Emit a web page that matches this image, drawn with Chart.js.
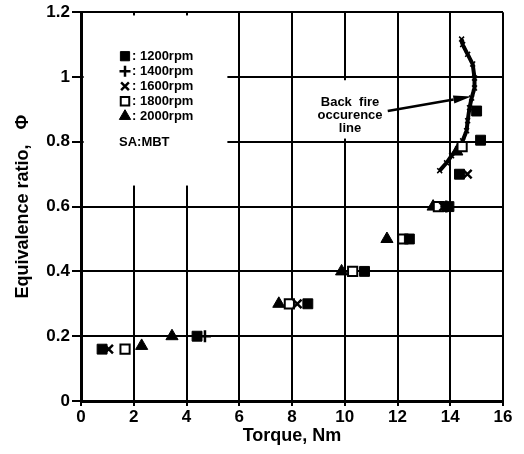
<!DOCTYPE html>
<html>
<head>
<meta charset="utf-8">
<script src="https://cdn.jsdelivr.net/npm/chart.js@4"></script>
<style>
  body { margin: 0; background: #fff; }
</style>
</head>
<body>
<canvas id="phiChart" width="524" height="454"></canvas>
<script>
// data
const rpm1200Torque = [0.8, 4.4, 8.6, 10.75, 12.45, 13.95, 14.35, 15.15, 15.0];
const rpm1200Phi    = [0.16, 0.2, 0.3, 0.4, 0.5, 0.6, 0.7, 0.805, 0.895];
const rpm1400Torque = [4.7, 13.85];
const rpm1400Phi    = [0.2, 0.6];
const rpm1600Torque = [1.05, 8.2, 13.75, 14.65];
const rpm1600Phi    = [0.16, 0.3, 0.6, 0.7];
const rpm1800Torque = [1.67, 7.9, 10.3, 12.2, 13.55, 14.45];
const rpm1800Phi    = [0.16, 0.3, 0.4, 0.5, 0.6, 0.785];
const rpm2000Torque = [2.3, 3.45, 7.5, 9.88, 11.6, 13.35, 14.25];
const rpm2000Phi    = [0.17, 0.2, 0.3, 0.4, 0.5, 0.6, 0.77];
const backfireTorque = [13.6, 13.86, 14.05, 14.28, 14.47, 14.62, 14.66, 14.73, 14.81, 14.92, 14.92, 14.85, 14.66, 14.47, 14.43];
const backfirePhi    = [0.711, 0.735, 0.757, 0.778, 0.803, 0.834, 0.865, 0.905, 0.935, 0.966, 0.997, 1.04, 1.07, 1.10, 1.117];
const xTicks = [0, 2, 4, 6, 8, 10, 12, 14, 16];
const yTicks = [0, 0.2, 0.4, 0.6, 0.8, 1, 1.2];
const legendLabels = ['1200rpm', '1400rpm', '1600rpm', '1800rpm', '2000rpm'];
const noteLines = ['Back  fire', 'occurence', 'line'];
const arrowFrom = [11.63, 0.895];
const arrowTo = [14.8, 0.94];

function pts(xs, ys) {
    return xs.map((x, i) => ({ x: x, y: ys[i] }));
}

const boldFont = 'bold 13px "Liberation Sans", Arial, sans-serif';

const markers = [
    { pointStyle: 'rect', pointRadius: 7, backgroundColor: '#000', borderColor: '#000', borderWidth: 1 },
    { pointStyle: 'cross', pointRadius: 6, backgroundColor: '#000', borderColor: '#000', borderWidth: 2.5 },
    { pointStyle: 'crossRot', pointRadius: 6, backgroundColor: '#000', borderColor: '#000', borderWidth: 2.5 },
    { pointStyle: 'rect', pointRadius: 6.5, backgroundColor: '#fff', borderColor: '#000', borderWidth: 2 },
    { pointStyle: 'triangle', pointRadius: 7, backgroundColor: '#000', borderColor: '#000', borderWidth: 1 }
];

// legend, note and arrow drawn by hand, like the original figure
const decor = {
    id: 'decor',
    beforeDatasetsDraw(chart) {
        const ctx = chart.ctx;
        const xs = chart.scales.x, ys = chart.scales.y;
        ctx.save();
        ctx.fillStyle = '#fff';
        // grid is broken behind the legend block
        let l = xs.getPixelForValue(0.1), r = xs.getPixelForValue(5.55);
        let t = ys.getPixelForValue(1.19), b = ys.getPixelForValue(0.665);
        ctx.fillRect(l, t, r - l, b - t);
        // and behind the note
        l = xs.getPixelForValue(8.6); r = xs.getPixelForValue(11.6);
        t = ys.getPixelForValue(0.99); b = ys.getPixelForValue(0.81);
        ctx.fillRect(l, t, r - l, b - t);
        ctx.restore();
    },
    afterDatasetsDraw(chart) {
        const ctx = chart.ctx;
        const xs = chart.scales.x, ys = chart.scales.y;
        const area = chart.chartArea;
        ctx.save();
        ctx.fillStyle = '#000';
        ctx.strokeStyle = '#000';
        ctx.font = boldFont;
        ctx.textBaseline = 'middle';

        // legend
        const mx = area.left + 44, tx = area.left + 51;
        legendLabels.forEach((lab, i) => {
            const y = area.top + 44 + i * 15;
            const m = markers[i];
            ctx.fillStyle = m.backgroundColor;
            ctx.strokeStyle = m.borderColor;
            ctx.lineWidth = m.borderWidth;
            Chart.helpers.drawPoint(ctx, { pointStyle: m.pointStyle, radius: m.pointRadius - 0.5, rotation: 0, borderWidth: m.borderWidth }, mx, y);
            ctx.fillStyle = '#000';
            ctx.textAlign = 'left';
            ctx.fillText(': ' + lab, tx, y);
        });
        ctx.fillText('SA:MBT', area.left + 38, area.top + 130);

        // note text
        ctx.textAlign = 'center';
        const nx = xs.getPixelForValue(10.2);
        noteLines.forEach((s, i) => {
            ctx.fillText(s, nx, ys.getPixelForValue(0.92) + i * 13);
        });

        // arrow
        const x0 = xs.getPixelForValue(arrowFrom[0]), y0 = ys.getPixelForValue(arrowFrom[1]);
        const x1 = xs.getPixelForValue(arrowTo[0]), y1 = ys.getPixelForValue(arrowTo[1]);
        const ang = Math.atan2(y1 - y0, x1 - x0);
        const head = 18;
        ctx.lineWidth = 2.5;
        ctx.beginPath();
        ctx.moveTo(x0, y0);
        ctx.lineTo(x1 - head * Math.cos(ang), y1 - head * Math.sin(ang));
        ctx.stroke();
        ctx.beginPath();
        ctx.moveTo(x1, y1);
        ctx.lineTo(x1 - head * Math.cos(ang) + 4 * Math.sin(ang), y1 - head * Math.sin(ang) - 4 * Math.cos(ang));
        ctx.lineTo(x1 - head * Math.cos(ang) - 4 * Math.sin(ang), y1 - head * Math.sin(ang) + 4 * Math.cos(ang));
        ctx.closePath();
        ctx.fill();
        ctx.restore();
    }
};

const seriesT = [rpm1200Torque, rpm1400Torque, rpm1600Torque, rpm1800Torque, rpm2000Torque];
const seriesP = [rpm1200Phi, rpm1400Phi, rpm1600Phi, rpm1800Phi, rpm2000Phi];

const datasets = legendLabels.map((lab, i) => ({
    label: lab,
    data: pts(seriesT[i], seriesP[i]),
    ...markers[i]
}));
datasets.push({
    label: 'Back fire occurence line',
    data: pts(backfireTorque, backfirePhi),
    showLine: true,
    borderColor: '#000',
    backgroundColor: '#000',
    borderWidth: 4,
    tension: 0,
    pointStyle: 'crossRot',
    pointRadius: 3.5,
    pointBorderWidth: 1.5
});

const tickFont = { family: '"Liberation Sans", Arial, sans-serif', size: 17, weight: 'bold' };
const titleFont = { family: '"Liberation Sans", Arial, sans-serif', size: 18, weight: 'bold' };

new Chart(document.getElementById('phiChart').getContext('2d'), {
    type: 'scatter',
    data: { datasets: datasets },
    options: {
        responsive: false,
        animation: false,
        layout: { padding: { top: 11, right: 21, left: 0, bottom: 0 } },
        plugins: {
            legend: { display: false },
            tooltip: { enabled: false }
        },
        scales: {
            x: {
                min: 0,
                max: 16,
                afterBuildTicks: s => { s.ticks = xTicks.map(v => ({ value: v })); },
                afterFit: s => { s.height = 53; },
                ticks: { color: '#000', font: tickFont, padding: 1, maxRotation: 0 },
                grid: { color: '#000', lineWidth: 2, tickLength: 5 },
                border: { color: '#000', width: 3 },
                title: { display: true, text: 'Torque, Nm', color: '#000', font: titleFont, padding: { top: 0, bottom: 7 } }
            },
            y: {
                min: 0,
                max: 1.2,
                afterBuildTicks: s => { s.ticks = yTicks.map(v => ({ value: v })); },
                afterFit: s => { s.width = 81; },
                ticks: { color: '#000', font: tickFont, padding: 2, callback: v => String(+v.toFixed(1)) },
                grid: { color: '#000', lineWidth: 2, tickLength: 9 },
                border: { color: '#000', width: 3 },
                title: { display: true, text: 'Equivalence ratio,   Φ', color: '#000', font: titleFont, padding: { top: 12, bottom: 0 } }
            }
        }
    },
    plugins: [decor]
});
</script>
</body>
</html>
